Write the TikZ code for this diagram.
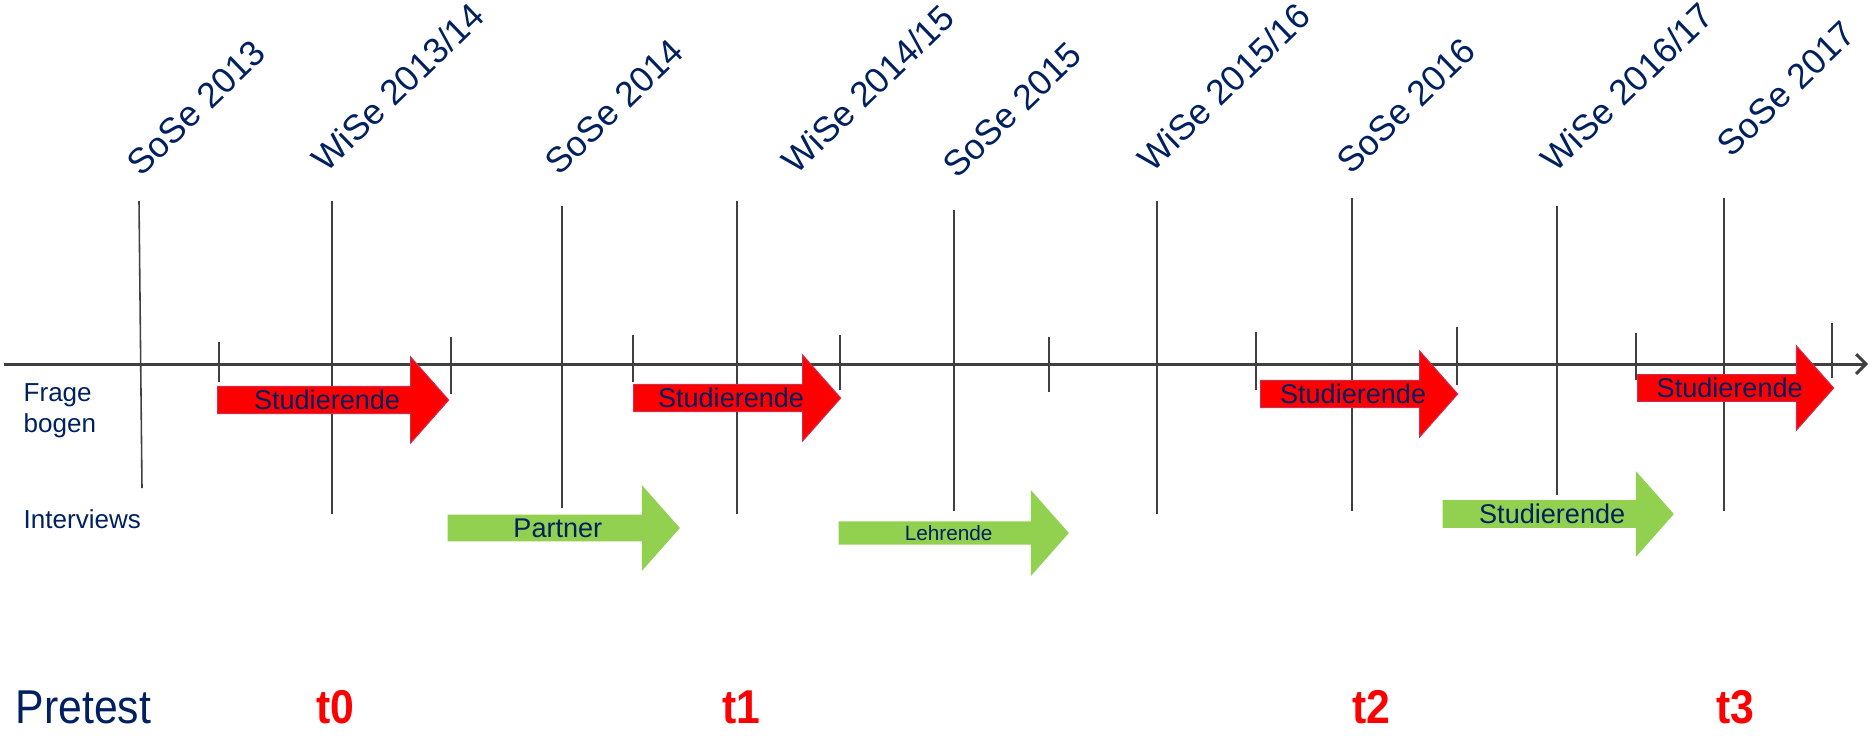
\documentclass[tikz,border=0pt]{standalone}
\usepackage{fontspec}
\setmainfont{Liberation Sans}
\newfontfamily\narrowfont[FakeStretch=0.9]{Liberation Sans}
\usetikzlibrary{arrows.meta,shapes.arrows}
\definecolor{navy}{RGB}{0,32,96}
\definecolor{rimred}{RGB}{205,45,80}
\definecolor{ivgreen}{RGB}{146,208,80}
\definecolor{axisgray}{RGB}{64,64,64}

\begin{document}
\begin{tikzpicture}[x=0.01cm, y=-0.01cm]
\tikzset{
  semline/.style = {axisgray, line width=0.45pt},
  tickline/.style = {axisgray, line width=0.45pt},
  semlabel/.style = {navy, anchor=base west, rotate=44, inner sep=0pt, font=\fontsize{10.1}{12}\selectfont},
  arrowbox/.style = {single arrow, anchor=tail, inner sep=0pt, text=navy,
    minimum width=0.86cm, single arrow head extend=0.225cm, single arrow tip angle=97,
    font=\fontsize{7.7}{9}\selectfont},
  fragebox/.style = {arrowbox, fill=red, draw=rimred, line width=0.3pt},
  interviewbox/.style = {arrowbox, fill=ivgreen},
  rowlabel/.style = {navy, inner sep=0pt, align=left, font=\fontsize{7.4}{8.8}\selectfont},
  tlabel/.style = {red, anchor=base, inner sep=0pt, font=\narrowfont\bfseries\fontsize{13.5}{16}\selectfont}
}
\useasboundingbox (0,0) rectangle (1874,735);

% semester lines
\foreach \name/\xt/\yt/\xb/\yb in {s13/139/201/142/488, w13/332/201/332/514, s14/562/206/562/508,
    w14/737/201/737/514, s15/954/210/954/511, w15/1157/201/1157/514, s16/1352/198/1352/511,
    w16/1557/206/1557/495, s17/1724/198/1724/511}{
  \coordinate (\name t) at (\xt,\yt);
  \coordinate (\name b) at (\xb,\yb);
  \draw[semline] (\name t) -- (\name b);
}

% semester labels
\node[semlabel] (l13) at (141,178) {SoSe 2013};
\node[semlabel] (lw13) at (326,174) {WiSe 2013/14};
\node[semlabel] (l14) at (559,177) {SoSe 2014};
\node[semlabel] (lw14) at (796,176) {WiSe 2014/15};
\node[semlabel] (l15) at (957,180) {SoSe 2015};
\node[semlabel] (lw15) at (1152,174) {WiSe 2015/16};
\node[semlabel] (l16) at (1351,176) {SoSe 2016};
\node[semlabel] (lw16) at (1555,174) {WiSe 2016/17};
\node[semlabel] (l17) at (1731,159) {SoSe 2017};

% time axis
\coordinate (axl) at (4,364);
\coordinate (axr) at (1868,364);
\draw[axisgray, line width=0.85pt, -{Straight Barb[length=2.8pt, width=5.6pt, line width=0.85pt]}] (axl) -- (axr);

% short ticks
\foreach \name/\x/\yt/\yb in {k1/219/342/382, k2/451/337/394, k3/633/335/382, k4/840/335/390,
    k5/1049/337/392, k6/1256/332/390, k7/1457/327/385, k8/1636/333/380, k9/1832/323/378}{
  \coordinate (\name t) at (\x,\yt);
  \coordinate (\name b) at (\x,\yb);
  \draw[tickline] (\name t) -- (\name b);
}

% Fragebogen
\node[fragebox, minimum height=2.31cm] (f0) at (217,400) {Studierende};
\node[fragebox, minimum height=2.07cm] (f1) at (633,398) {Studierende};
\node[fragebox, minimum height=1.97cm] (f2) at (1260,394) {Studierende};
\node[fragebox, minimum height=1.96cm, minimum width=0.84cm] (f3) at (1637,388) {Studierende};

% Interviews
\node[interviewbox, minimum height=2.32cm] (i1) at (447,528) {Partner};
\node[interviewbox, minimum height=2.30cm, font=\fontsize{5.9}{7}\selectfont] (i2) at (838,533) {Lehrende};
\node[interviewbox, minimum height=2.31cm] (i3) at (1442,514) {Studierende};

% row labels
\node[rowlabel, anchor=north west] (frage) at (23,383) {Frage\\bogen};
\node[rowlabel, anchor=base west] (interviews) at (23,528) {Interviews};

% measurement points
\node[navy, anchor=base west, inner sep=0pt, font=\narrowfont\fontsize{13.5}{16}\selectfont] (pretest) at (15,723) {Pretest};
\node[tlabel] (t0) at (335,723) {t0};
\node[tlabel] (t1) at (741,723) {t1};
\node[tlabel] (t2) at (1371,723) {t2};
\node[tlabel] (t3) at (1735,723) {t3};
\end{tikzpicture}
\end{document}
